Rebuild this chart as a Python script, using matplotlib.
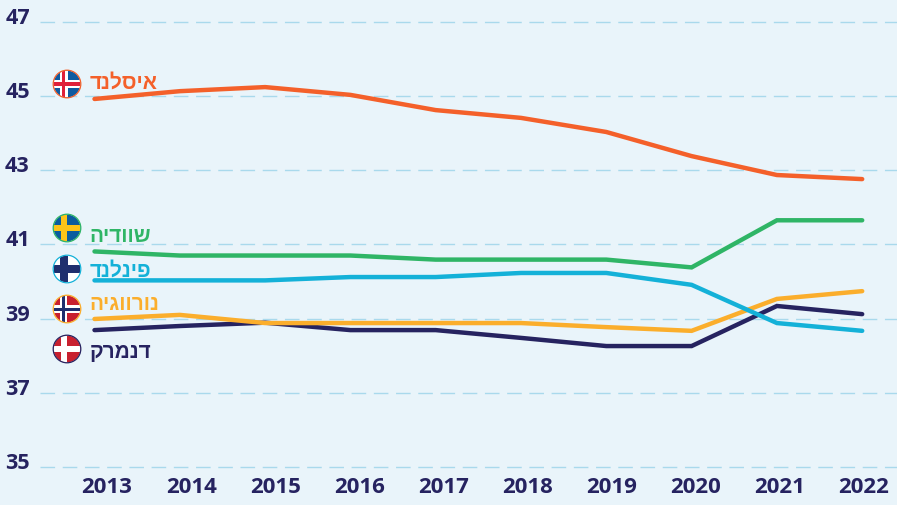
import numpy as np
import matplotlib
matplotlib.use('Agg')
import matplotlib.pyplot as plt
from matplotlib.patches import Circle, Rectangle
from matplotlib.transforms import ScaledTranslation

years = [2013, 2014, 2015, 2016, 2017, 2018, 2019, 2020, 2021, 2022]
iceland = [44.92, 45.13, 45.24, 45.03, 44.62, 44.41, 44.03, 43.38, 42.87, 42.76]
sweden = [40.81, 40.70, 40.70, 40.70, 40.59, 40.59, 40.59, 40.38, 41.65, 41.65]
finland = [40.03, 40.03, 40.03, 40.12, 40.12, 40.23, 40.23, 39.91, 38.88, 38.67]
norway = [38.99, 39.10, 38.88, 38.88, 38.88, 38.88, 38.77, 38.67, 39.53, 39.74]
denmark = [38.69, 38.80, 38.89, 38.69, 38.69, 38.48, 38.26, 38.26, 39.34, 39.12]

y_ticks = [35, 37, 39, 41, 43, 45, 47]

# hebrew names, logical order (matplotlib has no bidi so they get reversed when drawn)
name_iceland = 'איסלנד'
name_sweden = 'שוודיה'
name_finland = 'פינלנד'
name_norway = 'נורווגיה'
name_denmark = 'דנמרק'

bg = '#e9f4fa'
grid_col = '#a9d9ec'
navy = '#262360'
orange = '#f4602a'
green = '#2fb566'
blue = '#14b1d8'
yellow = '#fbae2c'

W, H = 897, 505
font = ['Open Sans', 'Liberation Sans', 'DejaVu Sans']

fig = plt.figure(figsize=(W/100, H/100), dpi=100, facecolor=bg)
ax = fig.add_axes([0, 0, 1, 1], facecolor=bg)

# pixel calibration from the picture
x0, x_step = 94.5, 85.3
y45, y_step = 96.0, 37.1
ax.set_xlim(2013 - x0/x_step, 2013 + (W - x0)/x_step)
ax.set_ylim(45 - (H - y45)/y_step, 45 + y45/y_step)

for s in ax.spines.values():
    s.set_visible(False)

# gridlines start at x=40 so drawn by hand
for v in y_ticks:
    ax.plot([2013 + (40 - x0)/x_step, ax.get_xlim()[1]], [v, v], color=grid_col, lw=1.0,
            dashes=(10.5, 5.5), zorder=1)

for vals, c in [(denmark, navy), (norway, yellow), (finland, blue), (sweden, green), (iceland, orange)]:
    ax.plot(years, vals, color=c, lw=3.2, solid_capstyle='round', solid_joinstyle='miter', zorder=3)

# year labels are a bit tighter than the data
label_pos = [2013 + (p - x0)/x_step for p in np.linspace(107, 864, 10)]
ax.set_xticks(label_pos)
ax.set_xticklabels([str(y) for y in years], family=font, fontsize=16, fontweight='bold', color=navy)
ax.tick_params(axis='x', length=0, pad=-20.5)

ax.set_yticks(y_ticks)
ax.set_yticklabels([str(v) for v in y_ticks], family=font, fontsize=15.5, fontweight='bold', color=navy)
ax.tick_params(axis='y', length=0, pad=-21.5)
shift = ScaledTranslation(0, 6/100, fig.dpi_scale_trans)
for lab in ax.get_yticklabels():
    lab.set_transform(lab.get_transform() + shift)

# overlay in pixels for the flags and names
ov = fig.add_axes([0, 0, 1, 1], facecolor='none')
ov.set_xlim(0, W)
ov.set_ylim(H, 0)
ov.axis('off')


def flag(cy, ring, base, cross, arm, inner=None, inner_arm=3.5):
    cx = 67
    r = 13.4
    clip = Circle((cx, cy), r, transform=ov.transData)
    ov.add_patch(Circle((cx, cy), r, fc=base, ec='none', zorder=4))
    vx = cx - 3.5
    parts = [(vx - arm/2, cy - r, arm, 2*r, cross), (cx - r, cy - arm/2, 2*r, arm, cross)]
    if inner:
        parts += [(vx - inner_arm/2, cy - r, inner_arm, 2*r, inner), (cx - r, cy - inner_arm/2, 2*r, inner_arm, inner)]
    for x, y, w, h, c in parts:
        p = Rectangle((x, y), w, h, fc=c, ec='none', zorder=5)
        ov.add_patch(p)
        p.set_clip_path(clip)
    ov.add_patch(Circle((cx, cy), 13.8, fc='none', ec=ring, lw=0.9, zorder=6))


flag(84, orange, '#0f5aa0', 'white', 8, '#e0203a')
flag(228, green, '#0b5c9e', '#fcc419', 6)
flag(269, blue, 'white', '#1f2f6e', 8)
flag(309, yellow, '#c8202f', 'white', 7.5, '#1f2f6e', 3)
flag(349, navy, '#c8202f', 'white', 6)

for name, py, c in [(name_iceland, 83, orange), (name_sweden, 237, green), (name_finland, 271, blue),
                    (name_norway, 305, yellow), (name_denmark, 352, navy)]:
    ov.text(89.5, py, name[::-1], family=font, fontsize=15, fontweight='bold', color=c, ha='left', va='center', zorder=7)

fig.savefig('out.png', dpi=100, facecolor=bg)
